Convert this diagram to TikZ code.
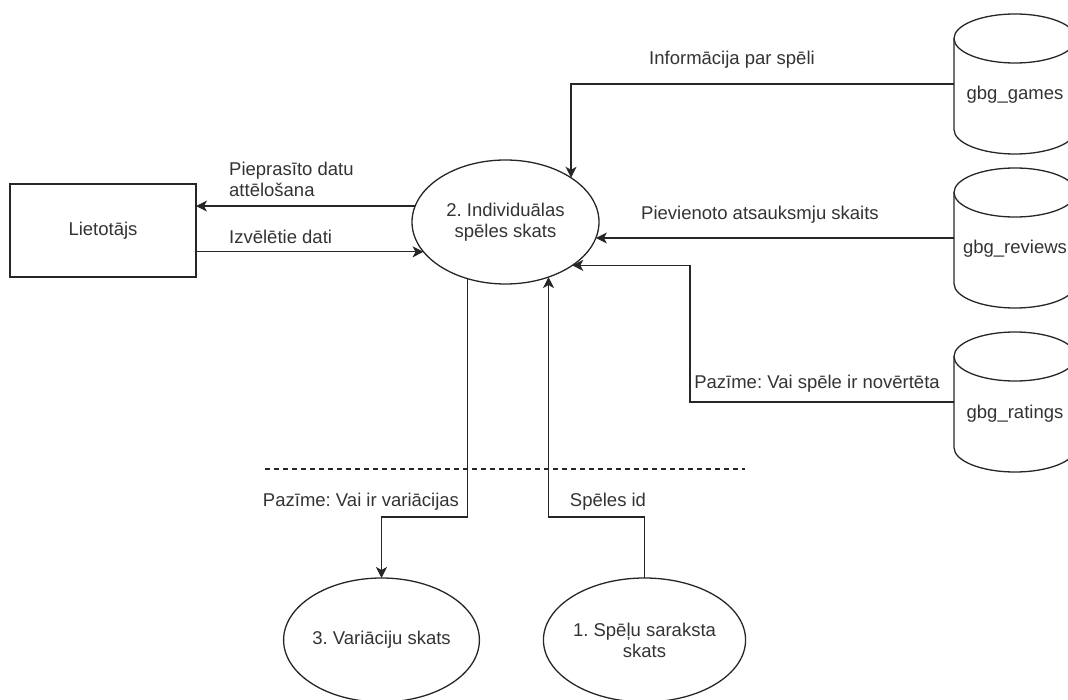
\documentclass[tikz,border=0pt]{standalone}
\usepackage{fontspec}
\setmainfont{Liberation Sans}
\usetikzlibrary{shapes.geometric,arrows.meta}
\frenchspacing

\begin{document}
\begin{tikzpicture}[x=1pt,y=-1pt,
  font=\fontsize{18.5}{21}\selectfont,
  every node/.style={text=black!80},
  ln/.style={draw=black!85, line width=1.3pt},
  flow/.style={ln, -{Stealth[length=11pt,width=11pt,inset=3pt]}},
  proc/.style={ln, ellipse, inner sep=0pt, outer sep=0pt,
    minimum width=187pt, minimum height=124pt, align=center},
  ext/.style={ln, rectangle, inner sep=0pt, outer sep=0pt,
    minimum width=186pt, minimum height=93pt},
  store/.style={rectangle, inner sep=0pt, outer sep=0pt,
    minimum width=122pt, minimum height=140pt, text height=40pt, text depth=8pt},
  lbl/.style={inner sep=0pt, align=left}
]
\useasboundingbox (0,0) rectangle (1068,700);
\clip (0,0) rectangle (1068,700);

% external entity and processes
\node[ext]  (user) at (103,230.5) {Lietotājs};
\node[proc] (p2) at (505.5,222) {2. Individuālas\\spēles skats};
\node[proc] (p3) at (381.5,640) {3. Variāciju skats};
\node[proc, minimum width=185pt] (p1) at (644.5,640) {1. Spēļu saraksta\\skats};

% data stores
\node[store] (g1) at (1015,84)  {gbg\_games};
\node[store] (g2) at (1015,238) {gbg\_reviews};
\node[store] (g3) at (1015,402) {gbg\_ratings};
\foreach \s in {g1,g2,g3}{
  \draw[ln] ([yshift=-24.5pt]\s.north west) -- ([yshift=24.5pt]\s.south west)
    arc[start angle=180,end angle=360,x radius=61pt,y radius=24.5pt]
    -- ([yshift=-24.5pt]\s.north east);
  \draw[ln] ([yshift=-24.5pt]\s.north) ellipse[x radius=61pt,y radius=24.5pt];
}

% boundary line
\draw[ln, dash pattern=on 5pt off 4pt] (265,469) -- (745,469);

% data flows
\draw[flow] (p2.170.6) -- (p2.170.6 -| user.east);
\draw[flow] (p2.200.9 -| user.east) -- (p2.200.9);
\draw[flow] (g1.west) -| (p2.34.84);
\draw[flow] (g2.west) -- (g2.west -| p2.-10.05);
\draw[flow] (g3.west) -- ++(-264,0) |- (p2.-33.73);
\draw[flow] (p2.236.57) |- ([yshift=61pt]p3.north) -- (p3.north);
\draw[flow] (p1.north) -- ([yshift=61pt]p1.north) -| (p2.-52.4);

% flow labels
\node[lbl, anchor=west] (l1) at (229,179) {Pieprasīto datu\\attēlošana};
\node[lbl, anchor=west] (l2) at (229,237) {Izvēlētie dati};
\node[lbl] (l3) at (732,60)  {Informācija par spēli};
\node[lbl] (l4) at (760,215) {Pievienoto atsauksmju skaits};
\node[lbl] (l5) at (817,384) {Pazīme: Vai spēle ir novērtēta};
\node[lbl] (l6) at (361,502) {Pazīme: Vai ir variācijas};
\node[lbl] (l7) at (608,502) {Spēles id};
\end{tikzpicture}
\end{document}
